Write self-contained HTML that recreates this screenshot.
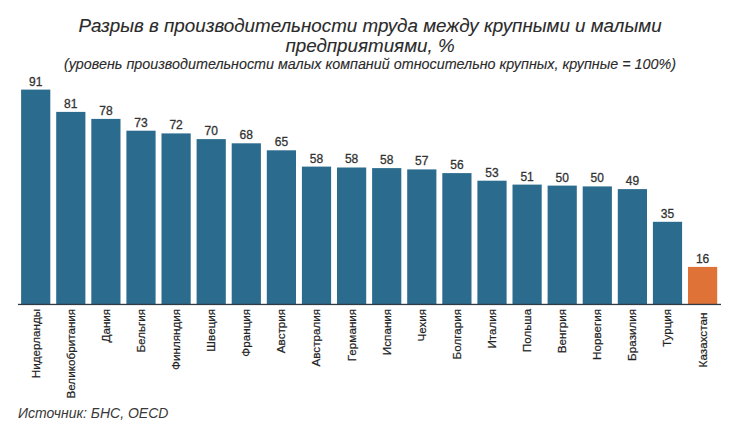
<!DOCTYPE html>
<html><head><meta charset="utf-8"><style>
html,body{margin:0;padding:0;background:#fff;}
body{width:740px;height:430px;overflow:hidden;position:relative;}
svg{position:absolute;left:0;top:0;}
text{font-family:"Liberation Sans",sans-serif;}
.t{font-size:18.8px;font-style:italic;fill:#2a2a2a;stroke:#2a2a2a;stroke-width:0.1px;text-anchor:middle;}
.s{font-size:14.35px;font-style:italic;fill:#2a2a2a;stroke:#2a2a2a;stroke-width:0.1px;text-anchor:middle;}
.v{font-size:12px;fill:#333;stroke:#333;stroke-width:0.3px;text-anchor:middle;}
.c{font-size:11.7px;fill:#222;stroke:#222;stroke-width:0.2px;text-anchor:end;}
.src{font-size:14px;font-style:italic;fill:#383838;}
</style></head><body>
<svg width="740" height="430" viewBox="0 0 740 430">
<text class="t" x="370" y="32.3">Разрыв в производительности труда между крупными и малыми</text>
<text class="t" x="370" y="51.9">предприятиями, %</text>
<text class="s" x="370" y="68.9">(уровень производительности малых компаний относительно крупных, крупные = 100%)</text>
<rect x="21.10" y="89.60" width="29.2" height="214.40" fill="#2b6c8e"/>
<text class="v" x="35.70" y="85.50">91</text>
<text class="c" transform="translate(39.60,308.8) rotate(-90)">Нидерланды</text>
<rect x="56.20" y="111.90" width="29.2" height="192.10" fill="#2b6c8e"/>
<text class="v" x="70.80" y="107.80">81</text>
<text class="c" transform="translate(74.70,308.8) rotate(-90)">Великобритания</text>
<rect x="91.30" y="118.90" width="29.2" height="185.10" fill="#2b6c8e"/>
<text class="v" x="105.90" y="114.80">78</text>
<text class="c" transform="translate(109.80,308.8) rotate(-90)">Дания</text>
<rect x="126.40" y="130.70" width="29.2" height="173.30" fill="#2b6c8e"/>
<text class="v" x="141.00" y="126.60">73</text>
<text class="c" transform="translate(144.90,308.8) rotate(-90)">Бельгия</text>
<rect x="161.50" y="133.40" width="29.2" height="170.60" fill="#2b6c8e"/>
<text class="v" x="176.10" y="129.30">72</text>
<text class="c" transform="translate(180.00,308.8) rotate(-90)">Финляндия</text>
<rect x="196.60" y="139.10" width="29.2" height="164.90" fill="#2b6c8e"/>
<text class="v" x="211.20" y="135.00">70</text>
<text class="c" transform="translate(215.10,308.8) rotate(-90)">Швеция</text>
<rect x="231.70" y="143.30" width="29.2" height="160.70" fill="#2b6c8e"/>
<text class="v" x="246.30" y="139.20">68</text>
<text class="c" transform="translate(250.20,308.8) rotate(-90)">Франция</text>
<rect x="266.80" y="150.30" width="29.2" height="153.70" fill="#2b6c8e"/>
<text class="v" x="281.40" y="146.20">65</text>
<text class="c" transform="translate(285.30,308.8) rotate(-90)">Австрия</text>
<rect x="301.90" y="166.60" width="29.2" height="137.40" fill="#2b6c8e"/>
<text class="v" x="316.50" y="162.50">58</text>
<text class="c" transform="translate(320.40,308.8) rotate(-90)">Австралия</text>
<rect x="337.00" y="167.50" width="29.2" height="136.50" fill="#2b6c8e"/>
<text class="v" x="351.60" y="163.40">58</text>
<text class="c" transform="translate(355.50,308.8) rotate(-90)">Германия</text>
<rect x="372.10" y="168.10" width="29.2" height="135.90" fill="#2b6c8e"/>
<text class="v" x="386.70" y="164.00">58</text>
<text class="c" transform="translate(390.60,308.8) rotate(-90)">Испания</text>
<rect x="407.20" y="169.40" width="29.2" height="134.60" fill="#2b6c8e"/>
<text class="v" x="421.80" y="165.30">57</text>
<text class="c" transform="translate(425.70,308.8) rotate(-90)">Чехия</text>
<rect x="442.30" y="173.10" width="29.2" height="130.90" fill="#2b6c8e"/>
<text class="v" x="456.90" y="169.00">56</text>
<text class="c" transform="translate(460.80,308.8) rotate(-90)">Болгария</text>
<rect x="477.40" y="180.70" width="29.2" height="123.30" fill="#2b6c8e"/>
<text class="v" x="492.00" y="176.60">53</text>
<text class="c" transform="translate(495.90,308.8) rotate(-90)">Италия</text>
<rect x="512.50" y="184.60" width="29.2" height="119.40" fill="#2b6c8e"/>
<text class="v" x="527.10" y="180.50">51</text>
<text class="c" transform="translate(531.00,308.8) rotate(-90)">Польша</text>
<rect x="547.60" y="185.60" width="29.2" height="118.40" fill="#2b6c8e"/>
<text class="v" x="562.20" y="181.50">50</text>
<text class="c" transform="translate(566.10,308.8) rotate(-90)">Венгрия</text>
<rect x="582.70" y="186.40" width="29.2" height="117.60" fill="#2b6c8e"/>
<text class="v" x="597.30" y="182.30">50</text>
<text class="c" transform="translate(601.20,308.8) rotate(-90)">Норвегия</text>
<rect x="617.80" y="189.10" width="29.2" height="114.90" fill="#2b6c8e"/>
<text class="v" x="632.40" y="185.00">49</text>
<text class="c" transform="translate(636.30,308.8) rotate(-90)">Бразилия</text>
<rect x="652.90" y="221.80" width="29.2" height="82.20" fill="#2b6c8e"/>
<text class="v" x="667.50" y="217.70">35</text>
<text class="c" transform="translate(671.40,308.8) rotate(-90)">Турция</text>
<rect x="688.00" y="266.90" width="29.2" height="37.10" fill="#de7237"/>
<text class="v" x="702.60" y="262.80">16</text>
<text class="c" transform="translate(707.00,312.6) rotate(-90)">Казахстан</text>
<rect x="18" y="303.8" width="703" height="1.3" fill="#2e3b44"/>
<text class="src" x="18" y="418.1">Источник: БНС, OECD</text>
</svg>
</body></html>
